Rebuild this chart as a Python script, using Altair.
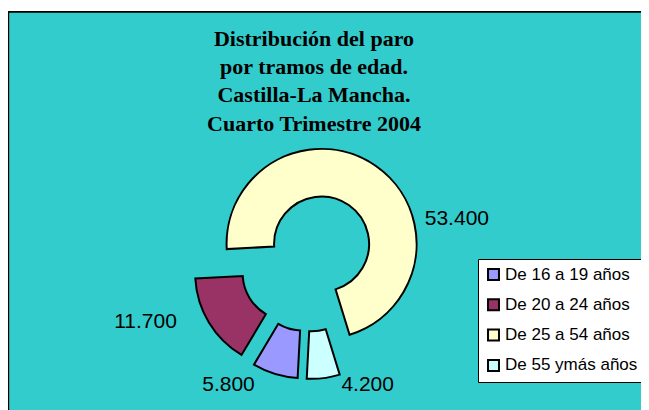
import math
import altair as alt
import pandas as pd

# ---- data ----
categories = ["De 16 a 19 años", "De 20 a 24 años", "De 25 a 54 años", "De 55 ymás años"]
values = [5800, 11700, 53400, 4200]
value_labels = ["5.800", "11.700", "53.400", "4.200"]
title_lines = ["Distribución del paro", "por tramos de edad.", "Castilla-La Mancha.", "Cuarto Trimestre 2004"]

# ---- style / layout ----
colors = ["#9999FF", "#993366", "#FFFFCC", "#CCFFFF"]
BG = "#33CCCC"
W, H = 633, 402
CX, CY = 301, 254
R_OUT, R_IN = 95, 47.5
EXPLODE = 22
START = math.radians(183)
label_nudge_deg = [16.3, 11.1, 38.9, -18.5]
label_radius = [147, 174, 154, 136]

df = pd.DataFrame({
    "category": categories,
    "value": values,
    "label": value_labels,
    "order": list(range(len(categories))),
    "nudge": label_nudge_deg,
    "lrad": label_radius,
})

base = alt.Chart(df).transform_joinaggregate(
    total="sum(value)"
).transform_window(
    cum="sum(value)", sort=[alt.SortField("order")], frame=[None, 0]
).transform_calculate(
    a0=f"{START} + 2*PI*(datum.cum - datum.value)/datum.total",
    a1=f"{START} + 2*PI*datum.cum/datum.total",
).transform_calculate(
    mid="(datum.a0 + datum.a1)/2"
).transform_calculate(
    px=f"{CX} + {EXPLODE}*sin(datum.mid)",
    py=f"{CY} - {EXPLODE}*cos(datum.mid)",
    la="datum.mid + datum.nudge*PI/180",
).transform_calculate(
    lx=f"{CX} + datum.lrad*sin(datum.la)",
    ly=f"{CY} - datum.lrad*cos(datum.la)",
)

one = pd.DataFrame({"k": [0]})
frame_fill = alt.Chart(one).mark_rect(fill=BG, strokeWidth=0).encode(
    x=alt.value(0), x2=alt.value(W), y=alt.value(4), y2=alt.value(H)
)
frame_top = alt.Chart(one).mark_rule(color="black", strokeWidth=1.6).encode(
    x=alt.value(0), x2=alt.value(W), y=alt.value(3.9)
)
frame_left = alt.Chart(one).mark_rule(color="black", strokeWidth=1.6).encode(
    x=alt.value(0.4), y=alt.value(3.1), y2=alt.value(H)
)

arcs = base.mark_arc(
    innerRadius=R_IN, outerRadius=R_OUT, stroke="black", strokeWidth=2
).encode(
    theta=alt.Theta("a0:Q", scale=None, stack=None),
    theta2="a1:Q",
    x=alt.X("px:Q", scale=None, axis=None),
    y=alt.Y("py:Q", scale=None, axis=None),
    color=alt.Color(
        "category:N",
        scale=alt.Scale(domain=categories, range=colors),
        legend=alt.Legend(
            title=None,
            orient="none",
            legendX=470,
            legendY=251,
            symbolType="square",
            symbolSize=120,
            symbolStrokeColor="black",
            symbolStrokeWidth=2,
            symbolOpacity=1,
            labelFont="Liberation Sans",
            labelFontSize=17,
            labelColor="black",
            labelOffset=3,
            rowPadding=11.3,
            padding=7,
            fillColor="white",
            strokeColor="black",
        ),
    ),
)

labels = base.mark_text(
    font="Liberation Sans", fontSize=21, color="black", align="center", baseline="middle"
).encode(
    x=alt.X("lx:Q", scale=None, axis=None),
    y=alt.Y("ly:Q", scale=None, axis=None),
    text="label:N",
)

title = alt.Chart(pd.DataFrame({"t": ["\n".join(title_lines)]})).mark_text(
    font="Liberation Serif", fontSize=22, fontWeight="bold", color="black",
    align="center", baseline="alphabetic", lineBreak="\n", lineHeight=28.4
).encode(
    x=alt.value(306), y=alt.value(37.7), text="t:N"
)

chart = alt.layer(frame_fill, frame_top, frame_left, arcs, labels, title).properties(
    width=W, height=H, padding=0, autosize=alt.AutoSizeParams(type="none")
).configure(background="white").configure_view(stroke=None)

chart.save("out.html", embed_options={"renderer": "svg", "actions": False})
